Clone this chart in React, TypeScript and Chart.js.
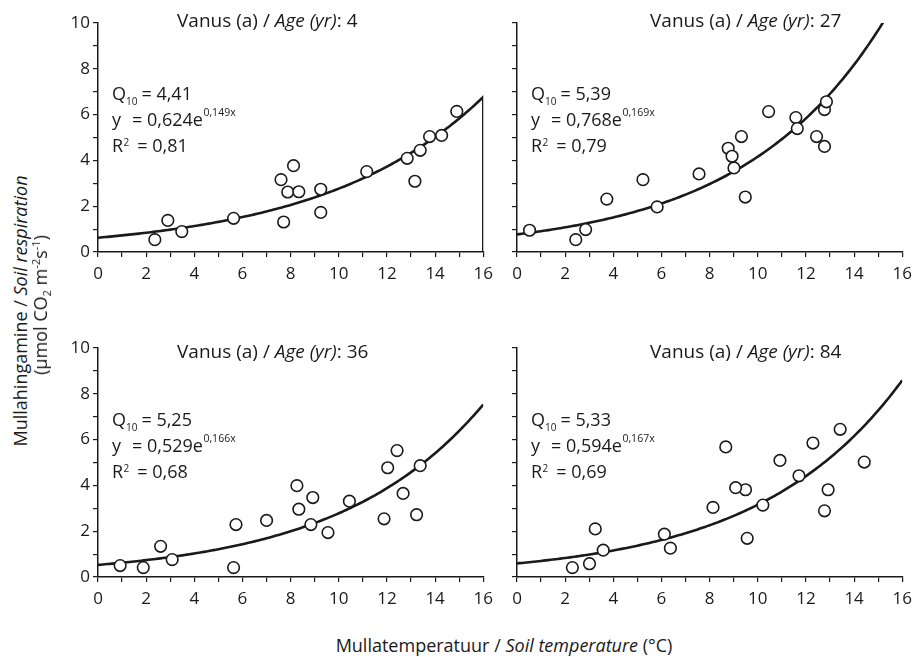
import React, { useEffect, useRef } from 'react';
import { Chart, registerables } from 'chart.js';

Chart.register(...registerables);

// ---------- data ----------
const AGES = ['4', '27', '36', '84'];
const Q10 = ['4,41', '5,39', '5,25', '5,33'];
const COEF_A = [0.624, 0.768, 0.529, 0.594];
const COEF_B = [0.149, 0.169, 0.166, 0.167];
const R2 = ['0,81', '0,79', '0,68', '0,69'];

const temp4 = [2.36, 2.9, 3.48, 5.63, 7.6, 7.71, 7.88, 8.12, 8.34, 9.25, 9.25, 11.16, 12.84, 13.16, 13.38, 13.77, 14.27, 14.9];
const resp4 = [0.54, 1.38, 0.89, 1.47, 3.16, 1.31, 2.62, 3.77, 2.63, 2.74, 1.73, 3.51, 4.09, 3.09, 4.44, 5.04, 5.09, 6.14];

const temp27 = [0.52, 2.44, 2.85, 3.73, 5.23, 5.82, 7.56, 8.77, 8.93, 9.01, 9.32, 9.48, 10.45, 11.58, 11.64, 12.44, 12.77, 12.85, 12.77];
const resp27 = [0.95, 0.54, 0.98, 2.31, 3.16, 1.97, 3.41, 4.53, 4.18, 3.67, 5.04, 2.4, 6.13, 5.87, 5.39, 5.04, 6.22, 6.56, 4.61];

const temp36 = [0.92, 1.88, 2.6, 3.08, 5.63, 5.73, 7.0, 8.26, 8.34, 8.92, 8.84, 9.55, 10.44, 11.88, 12.03, 12.42, 12.67, 13.23, 13.38];
const resp36 = [0.5, 0.41, 1.34, 0.76, 0.41, 2.29, 2.47, 3.99, 2.96, 3.47, 2.29, 1.94, 3.31, 2.54, 4.77, 5.52, 3.65, 2.72, 4.86];

const temp84 = [2.3, 3.01, 3.25, 3.58, 6.12, 6.37, 8.14, 8.67, 9.49, 9.08, 9.56, 10.21, 10.92, 11.71, 12.29, 12.77, 12.92, 13.42, 14.42];
const resp84 = [0.41, 0.58, 2.1, 1.17, 1.87, 1.26, 3.04, 5.68, 3.81, 3.9, 1.69, 3.14, 5.09, 4.42, 5.85, 2.89, 3.81, 6.45, 5.02];

const TEMPS = [temp4, temp27, temp36, temp84];
const RESPS = [resp4, resp27, resp36, resp84];

const X_MIN = 0;
const X_MAX = 16;
const Y_MIN = 0;
const Y_MAX = 10;

// ---------- layout / style ----------
const FONT = '"Open Sans", Lato, sans-serif';
const INK = '#1a1a1a';

const PANELS = [
  { left: 40, top: 0, w: 460, h: 290, yW: 58, padR: 13, padT: 23, xH: 38, yLabels: true, titleDx: 79, titleDy: 4, annDy: 77 },
  { left: 500, top: 0, w: 419, h: 290, yW: 17, padR: 13, padT: 23, xH: 38, yLabels: false, titleDx: 133, titleDy: 4, annDy: 77 },
  { left: 40, top: 325, w: 460, h: 290, yW: 58, padR: 13, padT: 23, xH: 38, yLabels: true, titleDx: 79, titleDy: 10, annDy: 78 },
  { left: 500, top: 325, w: 419, h: 290, yW: 17, padR: 13, padT: 23, xH: 38, yLabels: false, titleDx: 133, titleDy: 10, annDy: 78 },
];

function setFont(ctx: CanvasRenderingContext2D, size: number, italic = false) {
  ctx.font = `${italic ? 'italic ' : ''}${size}px ${FONT}`;
}

function seg(ctx: CanvasRenderingContext2D, text: string, x: number, y: number, size: number, italic = false) {
  setFont(ctx, size, italic);
  ctx.fillText(text, x, y);
  return x + ctx.measureText(text).width;
}

function fmt(v: number) {
  return v.toFixed(3).replace('.', ',');
}

function textPlugin(i: number) {
  return {
    id: 'panelText' + i,
    afterDraw(chart: any) {
      const { ctx, chartArea: a } = chart;
      const p = PANELS[i];
      ctx.save();
      ctx.fillStyle = INK;
      ctx.textAlign = 'left';
      ctx.textBaseline = 'alphabetic';
      // panel title
      let x = a.left + p.titleDx;
      const ty = a.top + p.titleDy;
      x = seg(ctx, 'Vanus (a) / ', x, ty, 19);
      x = seg(ctx, 'Age (yr)', x, ty, 19, true);
      seg(ctx, ': ' + AGES[i], x, ty, 19);
      // fit annotation
      const x0 = a.left + 14;
      const y1 = a.top + p.annDy;
      const y2 = y1 + 26;
      const y3 = y2 + 26;
      let q = seg(ctx, 'Q', x0, y1, 18);
      q = seg(ctx, '10', q, y1 + 5, 10);
      seg(ctx, '= ' + Q10[i], Math.max(q + 4, x0 + 28), y1, 18);
      const yy = seg(ctx, 'y', x0, y2, 18);
      const xe = seg(ctx, '= ' + fmt(COEF_A[i]) + 'e', Math.max(yy + 9, x0 + 20), y2, 18);
      seg(ctx, fmt(COEF_B[i]) + 'x', xe + 0.5, y2 - 10, 10.5);
      let r = seg(ctx, 'R', x0, y3, 18);
      r = seg(ctx, '2', r + 0.5, y3 - 6, 10);
      seg(ctx, '= ' + R2[i], Math.max(r + 8, x0 + 25), y3, 18);
      ctx.restore();
    },
  };
}

function makeConfig(i: number): any {
  const p = PANELS[i];
  const pts = TEMPS[i].map((x, j) => ({ x, y: RESPS[i][j] }));
  const curve: { x: number; y: number }[] = [];
  for (let k = 0; k <= 160; k++) {
    const x = X_MIN + (k * (X_MAX - X_MIN)) / 160;
    curve.push({ x, y: COEF_A[i] * Math.exp(COEF_B[i] * x) });
  }
  if (i === 0) curve.push({ x: X_MAX, y: Y_MIN });
  const tickFont = { family: FONT, size: 17 };
  const grid = { drawOnChartArea: false, drawTicks: true, tickLength: 5, color: INK, lineWidth: 1.2 };
  const border = { display: true, color: INK, width: 1.5 };
  return {
    type: 'scatter',
    data: {
      datasets: [
        {
          data: pts,
          order: 1,
          showLine: false,
          pointRadius: 5.8,
          pointBorderWidth: 1.6,
          borderWidth: 1.6,
          pointBorderColor: INK,
          borderColor: INK,
          pointBackgroundColor: '#ffffff',
          backgroundColor: '#ffffff',
        },
        {
          data: curve,
          order: 2,
          showLine: true,
          pointRadius: 0,
          borderColor: INK,
          borderWidth: 2.6,
          tension: 0,
          fill: false,
        },
      ],
    },
    options: {
      animation: false,
      responsive: false,
      events: [],
      layout: { padding: { top: p.padT, right: p.padR, left: 0, bottom: 0 } },
      plugins: { legend: { display: false }, tooltip: { enabled: false }, title: { display: false } },
      scales: {
        x: {
          type: 'linear',
          min: X_MIN,
          max: X_MAX,
          afterFit: (s: any) => {
            s.height = p.xH;
          },
          ticks: {
            stepSize: 1,
            autoSkip: false,
            maxRotation: 0,
            padding: 7,
            color: INK,
            font: tickFont,
            callback: (v: any) => (Number(v) % 2 === 0 ? String(v) : ''),
          },
          grid,
          border,
        },
        y: {
          type: 'linear',
          min: Y_MIN,
          max: Y_MAX,
          afterFit: (s: any) => {
            s.width = p.yW;
          },
          ticks: {
            stepSize: 1,
            autoSkip: false,
            padding: 3,
            color: INK,
            font: tickFont,
            callback: (v: any) => (p.yLabels && Number(v) % 2 === 0 ? String(v) : ''),
          },
          grid,
          border,
        },
      },
    },
    plugins: [textPlugin(i)],
  };
}

function Panel({ i }: { i: number }) {
  const ref = useRef<HTMLCanvasElement | null>(null);
  useEffect(() => {
    if (!ref.current) return;
    const chart = new Chart(ref.current, makeConfig(i));
    return () => chart.destroy();
  }, [i]);
  const p = PANELS[i];
  return (
    <canvas
      ref={ref}
      width={p.w}
      height={p.h}
      style={{ position: 'absolute', left: p.left, top: p.top, width: p.w, height: p.h }}
    />
  );
}

export default function App() {
  const textStyle: React.CSSProperties = {
    position: 'absolute',
    whiteSpace: 'nowrap',
    fontFamily: FONT,
    fontSize: 18,
    lineHeight: '18px',
    color: INK,
  };
  const small: React.CSSProperties = { fontSize: 11, lineHeight: 0 };
  return (
    <div style={{ position: 'absolute', left: 0, top: 0, width: 919, height: 657, background: '#fff', overflow: 'hidden' }}>
      {[0, 1, 2, 3].map((i) => (
        <Panel key={i} i={i} />
      ))}
      <div style={{ ...textStyle, left: 20, top: 311, transform: 'translate(-50%, -50%) rotate(-90deg)' }}>
        Mullahingamine / <i>Soil respiration</i>
      </div>
      <div style={{ ...textStyle, left: 40, top: 305, transform: 'translate(-50%, -50%) rotate(-90deg)' }}>
        (µmol CO<sub style={{ ...small, verticalAlign: '-0.35em' }}>2</sub> m<sup style={{ ...small, verticalAlign: '0.6em' }}>-2</sup>s<sup style={{ ...small, verticalAlign: '0.6em' }}>-1</sup>)
      </div>
      <div style={{ ...textStyle, left: 504, top: 645, transform: 'translate(-50%, -50%)' }}>
        Mullatemperatuur / <i>Soil temperature</i> (°C)
      </div>
    </div>
  );
}
